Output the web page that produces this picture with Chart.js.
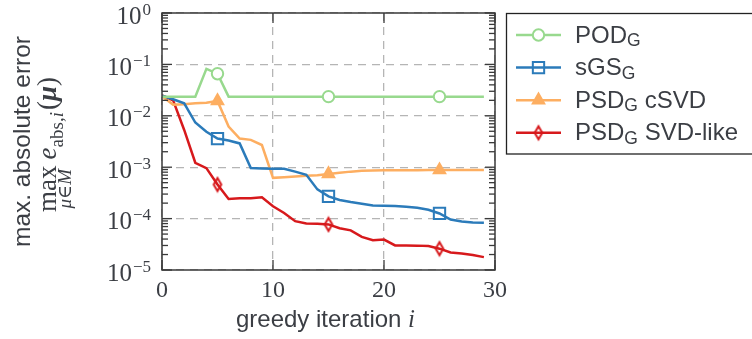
<!DOCTYPE html>
<html>
<head>
<meta charset="utf-8">
<script src="https://cdn.jsdelivr.net/npm/chart.js@4/dist/chart.umd.min.js"></script>
<style>
    html, body { margin: 0; padding: 0; background: #fff; }
    #wrap { width: 752px; height: 339px; position: relative; }
</style>
</head>
<body>
<div id="wrap"><canvas id="errorChart"></canvas></div>
<script>
// greedy iterations
const iterations = [0, 1, 2, 3, 4, 5, 6, 7, 8, 9, 10, 11, 12, 13, 14, 15, 16, 17, 18, 19, 20, 21, 22, 23, 24, 25, 26, 27, 28, 29];

// max. absolute error per iteration
const podValues = [0.0236, 0.0236, 0.0236, 0.0236, 0.082, 0.066, 0.0236, 0.0236, 0.0236, 0.0236,
    0.0236, 0.0236, 0.0236, 0.0236, 0.0236, 0.0236, 0.0236, 0.0236, 0.0236, 0.0236,
    0.0236, 0.0236, 0.0236, 0.0236, 0.0236, 0.0236, 0.0236, 0.0236, 0.0236, 0.0236];
const sgsValues = [0.0245, 0.021, 0.0175, 0.0074, 0.0049, 0.0036, 0.0033, 0.0029, 0.00096, 0.00094,
    0.00093, 0.00093, 0.00082, 0.00071, 0.00037, 0.00027, 0.00023, 0.00021, 0.000194, 0.00018,
    0.000177, 0.000175, 0.00017, 0.000163, 0.000149, 0.000126, 0.000096, 0.000088, 0.000084, 0.000083];
const psdCsvdValues = [0.024, 0.0165, 0.0168, 0.0175, 0.018, 0.0195, 0.0062, 0.0036, 0.0034, 0.0027,
    0.00062, 0.00064, 0.00066, 0.00068, 0.0007, 0.00074, 0.00078, 0.00082, 0.00085, 0.00086,
    0.00087, 0.00087, 0.00087, 0.00087, 0.00088, 0.00088, 0.00088, 0.00088, 0.00088, 0.00088];
const psdSvdLikeValues = [0.025, 0.02, 0.0053, 0.00122, 0.00096, 0.00046, 0.00024, 0.00025, 0.00025, 0.00026,
    0.000174, 0.000129, 0.000089, 0.00008, 0.000079, 0.000077, 0.000065, 0.000059, 0.000044, 0.000038,
    0.000039, 0.00003, 0.00003, 0.0000298, 0.0000292, 0.000026, 0.000022, 0.000021, 0.0000195, 0.0000178];

// legend: [name, subscript, suffix]
const seriesNames = [["POD", "G", ""], ["sGS", "G", ""], ["PSD", "G", " cSVD"], ["PSD", "G", " SVD-like"]];

const xTickValues = [0, 10, 20, 30];
const yTickExponents = [0, -1, -2, -3, -4, -5];
const yTickValues = [1, 1e-1, 1e-2, 1e-3, 1e-4, 1e-5];
const markedIterations = [5, 15, 25];

const textColor = "#3b3e44";
const frameColor = "#3a3a3a";
const gridColor = "#b5b5b5";
const sans = '"Liberation Sans", Arial, sans-serif';
const serif = '"Liberation Serif", "DejaVu Serif", serif';

function thinDiamond(color) {
    const c = document.createElement("canvas");
    c.width = 12;
    c.height = 18;
    const g = c.getContext("2d");
    g.strokeStyle = color;
    g.lineWidth = 2;
    g.beginPath();
    g.moveTo(6, 2.5);
    g.lineTo(9.8, 9);
    g.lineTo(6, 15.5);
    g.lineTo(2.2, 9);
    g.closePath();
    g.stroke();
    return c;
}

function toPoints(values) {
    return iterations.map((it, k) => ({ x: it, y: values[k] }));
}

function markerRadius(r) {
    return ctx => markedIterations.includes(ctx.dataIndex) ? r : 0;
}

const datasets = [
    {
        data: toPoints(podValues), borderColor: "#98d98e",
        pointStyle: "circle", pointRadius: markerRadius(5.7),
        pointBackgroundColor: "#ffffff", pointBorderColor: "#98d98e"
    },
    {
        data: toPoints(sgsValues), borderColor: "#2b7bba",
        pointStyle: "rect", pointRadius: markerRadius(8),
        pointBackgroundColor: "rgba(0,0,0,0)", pointBorderColor: "#2b7bba"
    },
    {
        data: toPoints(psdCsvdValues), borderColor: "#fdae61",
        pointStyle: "triangle", pointRadius: markerRadius(6.6),
        pointBackgroundColor: "#fdae61", pointBorderColor: "#fdae61"
    },
    {
        data: toPoints(psdSvdLikeValues), borderColor: "#d7191c",
        pointStyle: thinDiamond("#d7191c"), pointRadius: markerRadius(6),
        pointBackgroundColor: "#d7191c", pointBorderColor: "#d7191c"
    }
];

function line(ctx, x1, y1, x2, y2) {
    ctx.beginPath();
    ctx.moveTo(x1, y1);
    ctx.lineTo(x2, y2);
    ctx.stroke();
}

function drawMarker(ctx, ds, x, y, r) {
    ctx.fillStyle = ds.pointBackgroundColor;
    ctx.strokeStyle = ds.pointBorderColor;
    ctx.lineWidth = 2;
    Chart.helpers.drawPoint(ctx, { pointStyle: ds.pointStyle, radius: r, rotation: 0, borderWidth: 2 }, x, y);
}

const decorations = {
    id: "decorations",
    afterDraw(chart) {
        const { ctx, chartArea: a, scales: { x, y } } = chart;
        ctx.save();

        // frame
        ctx.strokeStyle = frameColor;
        ctx.lineWidth = 1.5;
        ctx.strokeRect(a.left, a.top, a.right - a.left, a.bottom - a.top);

        // inward tick marks
        ctx.lineWidth = 1.3;
        yTickExponents.forEach(e => {
            const py = y.getPixelForValue(Math.pow(10, e));
            line(ctx, a.left, py, a.left + 10, py);
            line(ctx, a.right, py, a.right - 10, py);
            if (e > -5) {
                for (let m = 2; m <= 9; m++) {
                    const pm = y.getPixelForValue(m * Math.pow(10, e - 1));
                    line(ctx, a.left, pm, a.left + 6, pm);
                    line(ctx, a.right, pm, a.right - 6, pm);
                }
            }
        });
        xTickValues.forEach(v => {
            const px = x.getPixelForValue(v);
            line(ctx, px, a.bottom, px, a.bottom - 10);
            line(ctx, px, a.top, px, a.top + 10);
        });

        // y tick labels 10^e
        ctx.fillStyle = textColor;
        ctx.textBaseline = "alphabetic";
        yTickExponents.forEach((e, k) => {
            const py = y.getPixelForValue(yTickValues[k]);
            const exp = e === 0 ? "0" : "\u2212" + (-e);
            ctx.font = "17px " + serif;
            ctx.textAlign = "right";
            ctx.fillText(exp, 151, py + 1.5);
            const ew = ctx.measureText(exp).width;
            ctx.font = "25px " + serif;
            ctx.fillText("10", 151 - ew - 1, py + 10.5);
        });

        // x tick labels
        ctx.font = "24px " + serif;
        ctx.textAlign = "center";
        xTickValues.forEach(v => {
            ctx.fillText(String(v), x.getPixelForValue(v), 297);
        });

        // x title
        const xt = "greedy iteration ";
        ctx.font = "24px " + sans;
        const w1 = ctx.measureText(xt).width;
        ctx.font = "italic 25px " + serif;
        const w2 = ctx.measureText("i").width;
        const cx = (a.left + a.right) / 2 - 3;
        ctx.textAlign = "left";
        ctx.font = "24px " + sans;
        ctx.fillText(xt, cx - (w1 + w2) / 2, 327);
        ctx.font = "italic 25px " + serif;
        ctx.fillText("i", cx - (w1 + w2) / 2 + w1, 327);

        // y title
        const cy = (a.top + a.bottom) / 2;
        ctx.save();
        ctx.translate(30, cy);
        ctx.rotate(-Math.PI / 2);
        ctx.font = "24.5px " + sans;
        ctx.textAlign = "center";
        ctx.fillText("max. absolute error", 0, 0);
        ctx.restore();

        // y title, math line
        ctx.save();
        ctx.translate(56, cy);
        ctx.rotate(-Math.PI / 2);
        ctx.textAlign = "left";
        const F = 27, S = 19;
        const parts = [
            ["max", F + "px " + serif, 0],
            ["  ", F * 0.45 + "px " + serif, 0],
            ["e", "italic " + F + "px " + serif, 0],
            ["abs,", S + "px " + serif, 7],
            ["i", "italic " + S + "px " + serif, 7],
            [" ", F * 0.3 + "px " + serif, 0],
            ["(", F + "px " + serif, 0],
            ["\u03bc", "bold italic " + F + "px " + serif, 0],
            [")", F + "px " + serif, 0]
        ];
        let total = 0;
        parts.forEach(p => { ctx.font = p[1]; p.push(ctx.measureText(p[0]).width); total += p[3]; });
        let px = -total / 2 - 3;
        ctx.font = F + "px " + serif;
        const maxW = ctx.measureText("max").width;
        const maxStart = px;
        parts.forEach(p => {
            ctx.font = p[1];
            ctx.fillText(p[0], px, p[2]);
            px += p[3];
        });
        // subscript under max
        ctx.font = "italic " + S + "px " + serif;
        const muW = ctx.measureText("\u03bc").width;
        ctx.font = S + "px " + serif;
        const inW = ctx.measureText("\u2208").width;
        ctx.font = "italic " + S + "px " + serif;
        const mW = ctx.measureText("M").width;
        let sx = maxStart + maxW / 2 - (muW + inW + mW) / 2;
        ctx.fillText("\u03bc", sx, 15); sx += muW;
        ctx.font = S + "px " + serif;
        ctx.fillText("\u2208", sx, 15); sx += inW;
        ctx.font = "italic " + S + "px " + serif;
        ctx.fillText("M", sx, 15);
        ctx.restore();

        // legend
        ctx.strokeStyle = "#222";
        ctx.lineWidth = 1.3;
        ctx.strokeRect(506.5, 13.5, 260, 140.5);
        seriesNames.forEach((name, k) => {
            const ds = chart.data.datasets[k];
            const ry = 35 + k * 32.6;
            ctx.strokeStyle = ds.borderColor;
            ctx.lineWidth = 2.5;
            line(ctx, 516, ry, 561, ry);
            const r = [5.7, 8, 6.6, 6][k];
            drawMarker(ctx, ds, 538.5, ry, r);
            ctx.fillStyle = textColor;
            ctx.textAlign = "left";
            ctx.font = "24px " + sans;
            let tx = 575;
            ctx.fillText(name[0], tx, ry + 7.5);
            tx += ctx.measureText(name[0]).width;
            ctx.font = "17.5px " + sans;
            ctx.fillText(name[1], tx, ry + 11);
            tx += ctx.measureText(name[1]).width;
            ctx.font = "24px " + sans;
            ctx.fillText(name[2], tx, ry + 7.5);
        });

        ctx.restore();
    }
};

new Chart(document.getElementById("errorChart"), {
    type: "line",
    data: { datasets: datasets },
    options: {
        responsive: true,
        maintainAspectRatio: false,
        animation: false,
        layout: { padding: { left: 162, right: 257, top: 13, bottom: 69 } },
        elements: {
            line: { borderWidth: 2.5, tension: 0, fill: false },
            point: { borderWidth: 2, hitRadius: 0, hoverRadius: 0 }
        },
        plugins: { legend: { display: false }, tooltip: { enabled: false } },
        scales: {
            x: {
                type: "linear", min: 0, max: 30,
                ticks: { display: false, stepSize: 10 },
                grid: { color: gridColor, lineWidth: 1.3, drawTicks: false },
                border: { display: false, dash: [8, 6] },
                afterFit: s => { s.height = 0; }
            },
            y: {
                type: "logarithmic", min: 1e-5, max: 1,
                ticks: { display: false },
                afterBuildTicks: s => { s.ticks = yTickValues.map(v => ({ value: v })); },
                grid: { color: gridColor, lineWidth: 1.3, drawTicks: false },
                border: { display: false, dash: [8, 6] },
                afterFit: s => { s.width = 0; }
            }
        }
    },
    plugins: [decorations]
});
</script>
</body>
</html>
